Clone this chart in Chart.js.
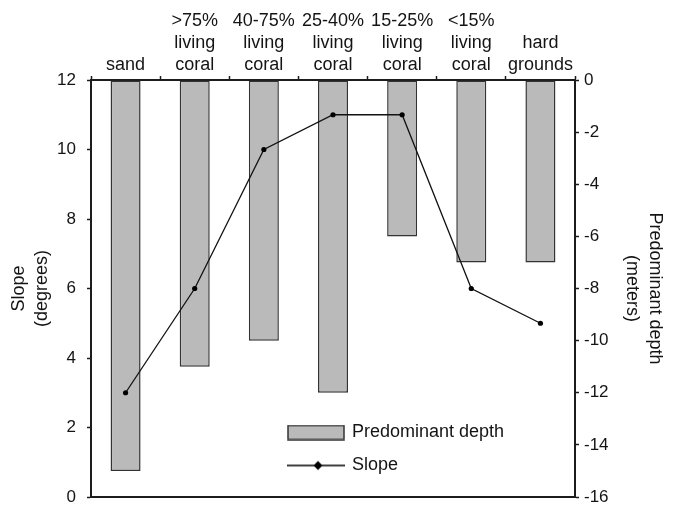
<!DOCTYPE html>
<html><head><meta charset="utf-8">
<script src="https://cdn.jsdelivr.net/npm/chart.js@4.4.1/dist/chart.umd.min.js"></script>
<style>html,body{margin:0;padding:0;background:#fff;}canvas{display:block;}</style>
</head><body>
<canvas id="c" width="678" height="506"></canvas>
<script>
// ---- data ----
const categories = ["sand", [">75%","living","coral"], ["40-75%","living","coral"], ["25-40%","living","coral"], ["15-25%","living","coral"], ["<15%","living","coral"], ["hard","grounds"]];
const depth = [-15, -11, -10, -12, -6, -7, -7];
const slope = [3, 6, 10, 11, 11, 6, 5];
const slopeTicks = [0, 2, 4, 6, 8, 10, 12];
const depthTicks = [-16, -14, -12, -10, -8, -6, -4, -2, 0];
const seriesNames = ["Predominant depth", "Slope"];
const slopeTitle = ["Slope", "(degrees)"];
const depthTitle = ["Predominant depth", "(meters)"];

// ---- style ----
const AXIS = '#1c1c1c';
const TEXT = '#141414';
const BAR_FILL = '#bababa';
const BAR_EDGE = '#333333';
Chart.defaults.font.family = '"Liberation Sans", Arial, Helvetica, sans-serif';
Chart.defaults.color = TEXT;

function makeBarIcon() {
  const c = document.createElement('canvas'); c.width = 58; c.height = 16;
  const g = c.getContext('2d');
  g.fillStyle = BAR_FILL; g.fillRect(1, 1, 56, 14);
  g.strokeStyle = BAR_EDGE; g.lineWidth = 1.5; g.strokeRect(1, 1, 56, 14);
  return c;
}
function makeLineIcon() {
  const c = document.createElement('canvas'); c.width = 58; c.height = 12;
  const g = c.getContext('2d');
  g.strokeStyle = '#000'; g.lineWidth = 1.5;
  g.beginPath(); g.moveTo(0, 6); g.lineTo(58, 6); g.stroke();
  g.fillStyle = '#000';
  g.beginPath(); g.moveTo(31, 1.5); g.lineTo(35.5, 6); g.lineTo(31, 10.5); g.lineTo(26.5, 6); g.closePath(); g.fill();
  return c;
}
const icons = [barIcon = makeBarIcon(), makeLineIcon()];

const legendMover = {
  id: 'legendMover',
  afterLayout(chart) {
    const L = chart.legend; if (!L) return;
    const pad = 15;
    L.left = 289 - pad; L.top = 423.5 - pad; L.right = 600; L.bottom = 495;
  }
};

function noOverhang(s) { s.paddingTop = 0; s.paddingBottom = 0; s.paddingLeft = 0; s.paddingRight = 0; }

new Chart(document.getElementById('c'), {
  type: 'bar',
  data: {
    labels: categories,
    datasets: [
      { label: seriesNames[0], data: depth, yAxisID: 'y1', xAxisID: 'x',
        backgroundColor: BAR_FILL, borderColor: BAR_EDGE, borderWidth: 1.5, borderSkipped: false,
        barPercentage: 0.434, categoryPercentage: 1, order: 1 },
      { type: 'line', label: seriesNames[1], data: slope, yAxisID: 'y', xAxisID: 'x',
        borderColor: '#111', borderWidth: 1.3, tension: 0, fill: false,
        pointRadius: 2.6, pointBackgroundColor: '#000', pointBorderColor: '#000', pointBorderWidth: 0,
        pointStyle: 'circle', order: 0 }
    ]
  },
  options: {
    responsive: false, animation: false, devicePixelRatio: 1,
    layout: { padding: 0 },
    plugins: {
      tooltip: { enabled: false },
      legend: {
        display: true, position: 'chartArea', align: 'start',
        labels: {
          usePointStyle: true, pointStyleWidth: 54, padding: 15, color: TEXT,
          font: { size: 18 },
          sort: (a, b) => a.datasetIndex - b.datasetIndex,
          generateLabels(chart) {
            const items = Chart.defaults.plugins.legend.labels.generateLabels(chart);
            items.forEach(it => { it.pointStyle = icons[it.datasetIndex]; });
            return items;
          }
        }
      }
    },
    scales: {
      x: {
        type: 'category', position: 'top', offset: true,
        grid: { display: true, drawOnChartArea: false, drawTicks: true, tickLength: 4, tickWidth: 1.5, tickColor: AXIS, offset: true },
        border: { display: true, color: AXIS, width: 2 },
        ticks: { font: { size: 18, lineHeight: 1.22 }, color: TEXT, padding: 0, maxRotation: 0, autoSkip: false },
        afterFit(s) { s.height = 80; noOverhang(s); }
      },
      x2: {
        type: 'category', position: 'bottom',
        grid: { display: false },
        border: { display: true, color: AXIS, width: 2 },
        ticks: { display: false },
        afterFit(s) { s.height = 9; noOverhang(s); }
      },
      y: {
        type: 'linear', position: 'left', min: 0, max: 12,
        afterBuildTicks(s) { s.ticks = slopeTicks.map(v => ({ value: v })); },
        grid: { drawOnChartArea: false, drawTicks: true, tickLength: 4, tickWidth: 1.5, tickColor: AXIS },
        border: { display: true, color: AXIS, width: 2 },
        ticks: { font: { size: 17 }, color: TEXT, padding: 11 },
        title: { display: true, text: slopeTitle, color: TEXT, font: { size: 18, lineHeight: 1.25 }, padding: { top: 8, bottom: 0 } },
        afterFit(s) { s.width = 91; noOverhang(s); }
      },
      y1: {
        type: 'linear', position: 'right', min: -16, max: 0,
        afterBuildTicks(s) { s.ticks = depthTicks.map(v => ({ value: v })); },
        grid: { drawOnChartArea: false, drawTicks: true, tickLength: 4, tickWidth: 1.5, tickColor: AXIS },
        border: { display: true, color: AXIS, width: 2 },
        ticks: { font: { size: 17 }, color: TEXT, padding: 5 },
        title: { display: true, text: depthTitle, color: TEXT, font: { size: 18, lineHeight: 1.25 }, padding: { top: 12, bottom: 0 } },
        afterFit(s) { s.width = 103; noOverhang(s); }
      }
    }
  },
  plugins: [legendMover]
});
</script>
</body></html>
